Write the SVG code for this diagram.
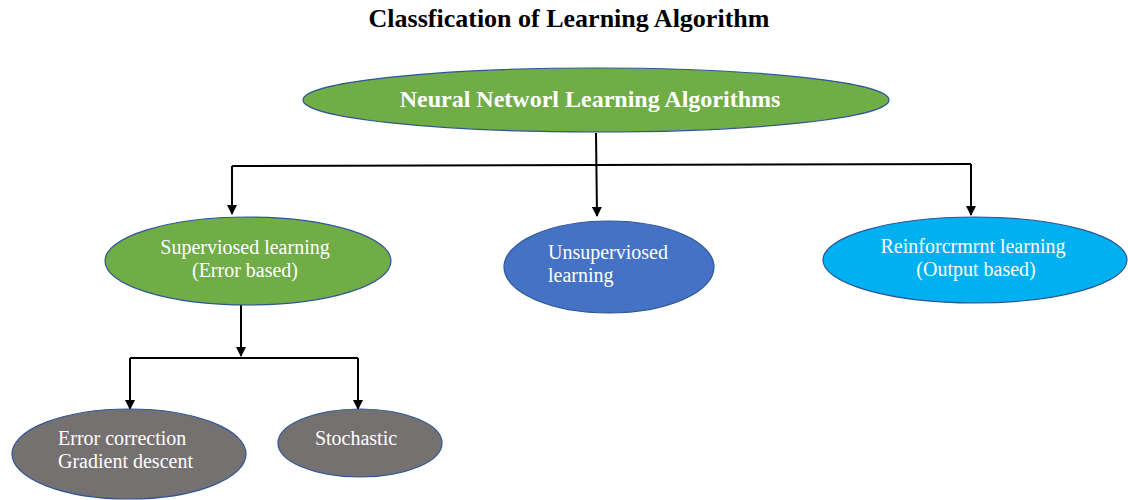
<svg xmlns="http://www.w3.org/2000/svg" width="1128" height="500" viewBox="0 0 1128 500">
<style>
text{font-family:'Liberation Serif',serif}
.t{fill:#fff;font-size:20px}
.b{font-weight:bold;font-size:24px}
.n{stroke:#2F5597;stroke-width:1.2}
.c{stroke:#000;stroke-width:2;fill:none}
</style>
<defs>
<marker id="ah" viewBox="0 0 10 10" refX="9" refY="5" markerWidth="5" markerHeight="5" orient="auto" markerUnits="strokeWidth">
<path d="M0,0 L10,5 L0,10 z" fill="#000"/>
</marker>
</defs>
<rect width="1128" height="500" fill="#fff"/>
<text x="569" y="27" text-anchor="middle" font-weight="bold" font-size="26" fill="#000">Classfication of Learning Algorithm</text>
<g id="connectors">
<path class="c" d="M596,133 L597,216" marker-end="url(#ah)"/>
<path class="c" d="M232,166 L971,164"/>
<path class="c" d="M232,166 L232,214" marker-end="url(#ah)"/>
<path class="c" d="M971,164 L971,215" marker-end="url(#ah)"/>
<path class="c" d="M241,305 L241,356" marker-end="url(#ah)"/>
<path class="c" d="M130,358 L358,358"/>
<path class="c" d="M130,358 L130,409" marker-end="url(#ah)"/>
<path class="c" d="M358,358 L358,409" marker-end="url(#ah)"/>
</g>
<g id="root">
<ellipse class="n" cx="596" cy="100" rx="293" ry="32" fill="#70AD47"/>
<text class="t b" x="590" y="107" text-anchor="middle">Neural Networl Learning Algorithms</text>
</g>
<g id="supervised">
<ellipse class="n" cx="248" cy="261" rx="143" ry="44" fill="#70AD47"/>
<text class="t" x="245" y="254" text-anchor="middle">Superviosed learning</text>
<text class="t" x="245" y="277" text-anchor="middle">(Error based)</text>
</g>
<g id="unsupervised">
<ellipse class="n" cx="609" cy="267" rx="105" ry="46" fill="#4472C4"/>
<text class="t" x="548" y="259">Unsuperviosed</text>
<text class="t" x="548" y="282">learning</text>
</g>
<g id="reinforcement">
<ellipse class="n" cx="975" cy="260" rx="152" ry="43" fill="#00B0F0"/>
<text class="t" x="973" y="253" text-anchor="middle">Reinforcrmrnt learning</text>
<text class="t" x="976" y="276" text-anchor="middle">(Output based)</text>
</g>
<g id="error-correction">
<ellipse class="n" cx="129" cy="454" rx="117" ry="45" fill="#767171"/>
<text class="t" x="58" y="445">Error correction</text>
<text class="t" x="58" y="468">Gradient descent</text>
</g>
<g id="stochastic">
<ellipse class="n" cx="360" cy="443" rx="82" ry="34" fill="#767171"/>
<text class="t" x="356" y="445" text-anchor="middle">Stochastic</text>
</g>
</svg>
